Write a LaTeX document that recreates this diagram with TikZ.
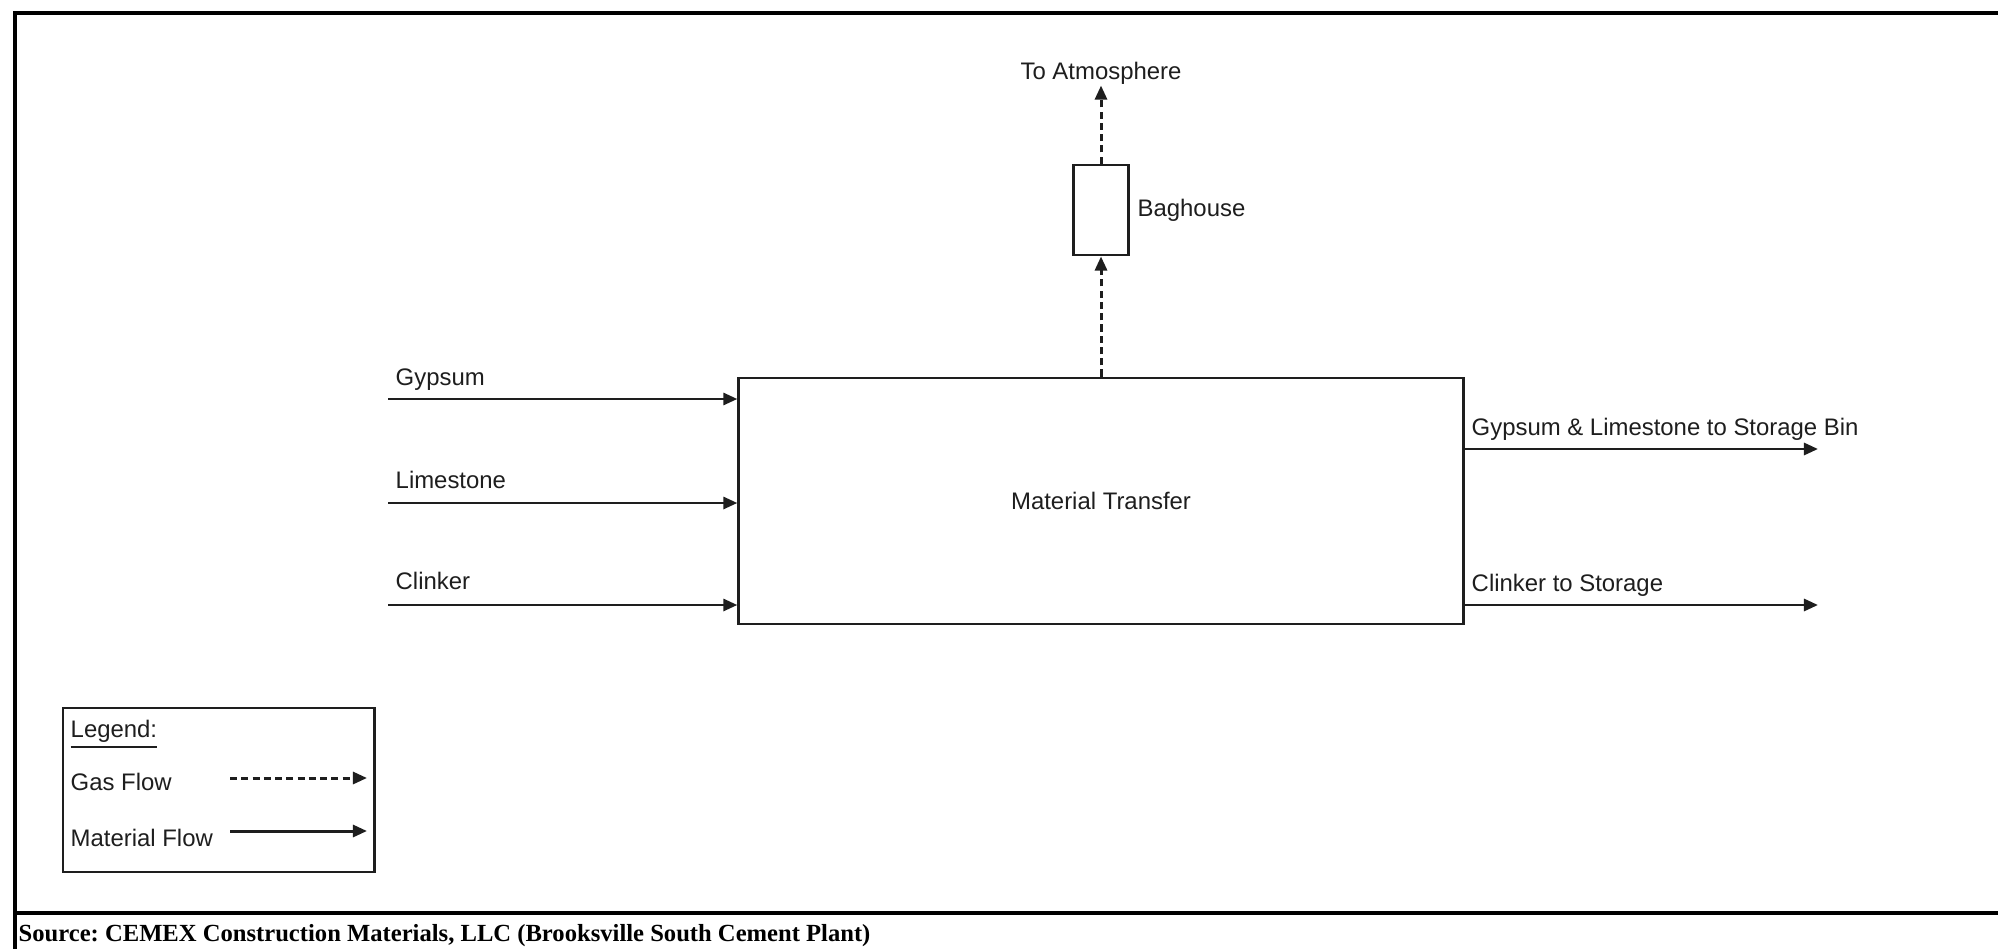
\documentclass[tikz,border=0pt]{standalone}
\usepackage{fontspec}
\setmainfont{Liberation Sans}
\newfontfamily\srcfont{Liberation Serif}
\usepackage{tikz}
\usetikzlibrary{arrows.meta,positioning}
\usepackage{xcolor}
\definecolor{ink}{HTML}{1E1E1E}
\frenchspacing
\tikzset{
  procbox/.style={draw=ink,line width=0.8pt,fill=white,inner sep=0pt,align=center,font=\fontsize{6.8}{8}\selectfont,text=ink},
  lbl/.style={inner sep=0pt,font=\fontsize{6.8}{8}\selectfont,text=ink},
  mat/.style={-{Triangle[length=4pt,width=3.4pt]},line width=0.85pt,draw=ink},
  gas/.style={mat,dash pattern=on 2pt off 1.2pt},
  frame/.style={line width=1.2pt,draw=black}
}

\begin{document}
\begin{tikzpicture}[x=0.01cm,y=-0.01cm]
    \useasboundingbox[fill=white] (0,0) rectangle (1998,949);
    % outer frame and source line
    \draw[frame] (15,949) -- (15,13) -- (1998,13);
    \draw[frame] (15,913) -- (1998,913);
    \node[anchor=base west,inner sep=0pt,font=\srcfont\bfseries\fontsize{7}{8}\selectfont] (src) at (18,941)
      {Source: CEMEX Construction Materials, LLC (Brooksville South Cement Plant)};
    % process
    \node[procbox,minimum width=7.24cm,minimum height=2.46cm] (mt) at (1101,501) {Material Transfer};
    \node[procbox,minimum width=0.55cm,minimum height=0.9cm,above=1.2cm of mt] (bag) {};
    \node[lbl,right=0.07cm of bag] (baglbl) {Baghouse};
    \node[lbl,above=0.78cm of bag] (atm) {To Atmosphere};
    \draw[gas] (mt) -- (bag);
    \draw[gas] (bag) -- (atm);
    % inputs
    \coordinate (gypin) at (388,399);
    \coordinate (limin) at (388,503);
    \coordinate (clkin) at (388,605);
    \node[lbl,anchor=base west] (gyplbl) at (395,385) {Gypsum};
    \node[lbl,anchor=base west] (limlbl) at (395,488) {Limestone};
    \node[lbl,anchor=base west] (clklbl) at (395,589) {Clinker};
    \draw[mat] (gypin) -- (gypin -| mt.west);
    \draw[mat] (limin) -- (limin -| mt.west);
    \draw[mat] (clkin) -- (clkin -| mt.west);
    % outputs
    \coordinate (binout) at (1818,449);
    \coordinate (clkout) at (1818,605);
    \node[lbl,anchor=base west] (binlbl) at (1471,435) {Gypsum \& Limestone to Storage Bin};
    \node[lbl,anchor=base west] (clkoutlbl) at (1471,591) {Clinker to Storage};
    \draw[mat] (binout -| mt.east) -- (binout);
    \draw[mat] (clkout -| mt.east) -- (clkout);
    % legend
    \node[procbox,minimum width=3.11cm,minimum height=1.64cm] (legend) at (218.5,790) {};
    \node[lbl,anchor=base west] (leglbl) at (70,737) {\underline{Legend:}};
    \node[lbl,anchor=base west] (gaslbl) at (70,790) {Gas Flow};
    \node[lbl,anchor=base west] (matlbl) at (70,846) {Material Flow};
    \coordinate (gasa) at (230,778);
    \coordinate (gasb) at (367,778);
    \coordinate (mata) at (230,831);
    \coordinate (matb) at (367,831);
    \draw[gas] (gasa) -- (gasb);
    \draw[mat] (mata) -- (matb);
  \end{tikzpicture}
\end{document}
